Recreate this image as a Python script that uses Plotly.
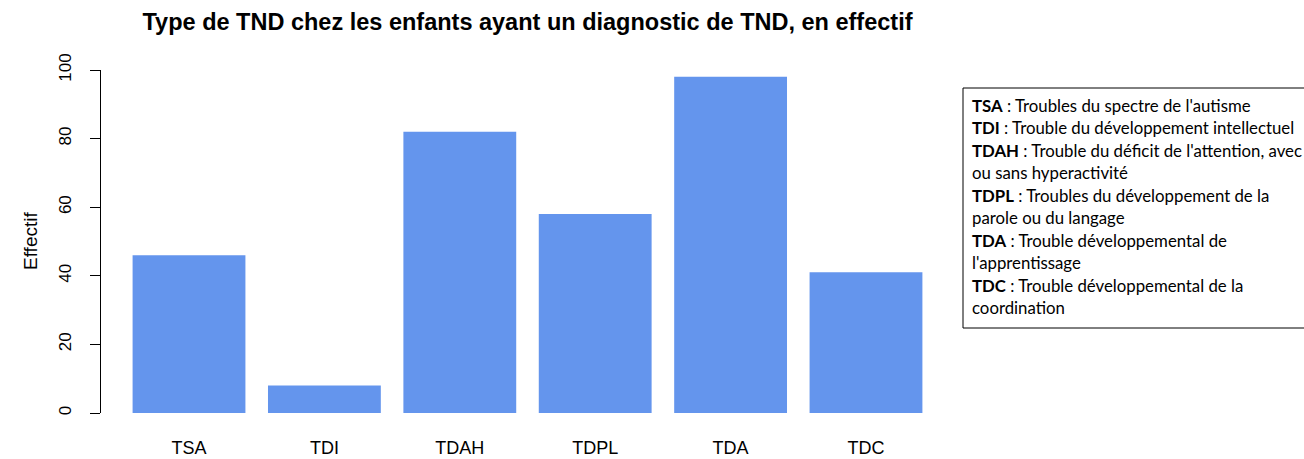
import plotly.graph_objects as go

categories = ["TSA", "TDI", "TDAH", "TDPL", "TDA", "TDC"]
effectifs = [46, 8, 82, 58, 98, 41]
y_ticks = [0, 20, 40, 60, 80, 100]

# texte de l'encadré (abréviation en gras, puis la suite)
legend_lines = [
    ("TSA", " : Troubles du spectre de l'autisme"),
    ("TDI", " : Trouble du développement intellectuel"),
    ("TDAH", " : Trouble du déficit de l'attention, avec"),
    ("", "ou sans hyperactivité"),
    ("TDPL", " : Troubles du développement de la"),
    ("", "parole ou du langage"),
    ("TDA", " : Trouble développemental de"),
    ("", "l'apprentissage"),
    ("TDC", " : Trouble développemental de la"),
    ("", "coordination"),
]

W, H = 1304, 459
ml, mr, mt, mb = 101, 350, 70, 46
plot_w = W - ml - mr
plot_h = H - mt - mb

fig = go.Figure()

fig.add_trace(go.Bar(
    x=categories,
    y=effectifs,
    marker=dict(color="#6495ED", line=dict(width=0)),
    hoverinfo="x+y"
))

fig.update_layout(
    width=W,
    height=H,
    margin=dict(l=ml, r=mr, t=mt, b=mb),
    plot_bgcolor="white",
    paper_bgcolor="white",
    bargap=0.2 / 1.2,
    showlegend=False,
    font=dict(family="Liberation Sans, Arial, sans-serif", color="black"),
    title=dict(
        text="<b>Type de TND chez les enfants ayant un diagnostic de TND, en effectif</b>",
        x=(ml + plot_w / 2) / W,
        xanchor="center",
        y=1 - 22 / H,
        yanchor="middle",
        font=dict(size=23.5, color="black"),
    ),
    xaxis=dict(
        range=[-0.65, 5.65],
        automargin=False,
        showline=False,
        showgrid=False,
        ticks="outside",
        ticklen=18,
        tickcolor="rgba(0,0,0,0)",
        tickfont=dict(size=18),
    ),
    yaxis=dict(
        range=[0, 100],
        automargin=False,
        tickvals=y_ticks,
        showline=True,
        linecolor="black",
        linewidth=1,
        showgrid=False,
        zeroline=False,
        ticks="outside",
        ticklen=10,
        tickcolor="black",
        tickangle=-90,
        tickfont=dict(size=17),
        ticklabelstandoff=12,
    ),
)

fig.add_annotation(
    text="Effectif",
    xref="paper", yref="paper",
    x=0, y=0.5,
    xshift=-83,
    textangle=-90,
    showarrow=False,
    font=dict(size=19),
)

# encadré de légende
box_left = 963
box_top = 88
box_bottom = 328
fig.add_shape(
    type="rect",
    xref="paper", yref="paper",
    x0=(box_left - ml) / plot_w, x1=(W + 10 - ml) / plot_w,
    y0=(H - mb - box_bottom) / plot_h, y1=(H - mb - box_top) / plot_h,
    line=dict(color="black", width=1),
    fillcolor="white",
    layer="above",
)

line_step = 22.5
first_line = 105
for i, (abbr, rest) in enumerate(legend_lines):
    txt = (f"<b>{abbr}</b>" if abbr else "") + rest
    ypix = first_line + i * line_step
    fig.add_annotation(
        text=txt,
        xref="paper", yref="paper",
        x=(970 - ml) / plot_w,
        y=(H - mb - ypix) / plot_h,
        xanchor="left", yanchor="middle",
        showarrow=False,
        align="left",
        font=dict(family="Lato, Open Sans, sans-serif", size=16.8, color="black"),
    )

fig.write_html(
    "out.html",
    config={"displayModeBar": False},
    post_script="document.body.style.margin='0';",
)
